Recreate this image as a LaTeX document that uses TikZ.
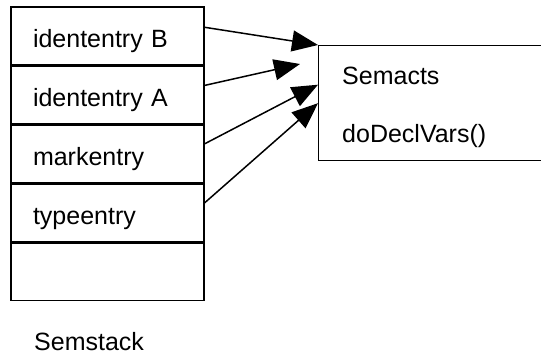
\documentclass[tikz,border=0pt]{standalone}
\usepackage{fontspec}
\setmainfont{Liberation Sans}
\usetikzlibrary{positioning,arrows.meta}

\tikzset{
  row/.style={draw, line width=1.4pt, minimum width=193pt, minimum height=57.6pt,
    text width=149pt, inner xsep=22pt, align=left, text height=26pt, text depth=3pt,
    font=\fontsize{25}{30}\selectfont},
  lbl/.style={anchor=base west, inner sep=0pt, font=\fontsize{25}{30}\selectfont},
  link/.style={-{Triangle[length=26pt,width=21pt]}, line width=1.5pt}
}

\begin{document}
\begin{tikzpicture}[x=1pt,y=-1pt]
\useasboundingbox (0,0) rectangle (541,355);

% the stack
\node[row] (r1) at (107.5,35.8) {idententry B};
\node[row, below=0pt of r1] (r2) {idententry A};
\node[row, below=0pt of r2] (r3) {markentry};
\node[row, below=0pt of r3] (r4) {typeentry};
\node[row, below=0pt of r4] (r5) {};
\node[lbl] (stack) at (34,351) {Semstack};

% the action box
\node[draw, line width=1.4pt, minimum width=260pt, minimum height=115pt,
  anchor=north west, inner sep=0pt] (sem) at (318,45) {};
\node[lbl] (name) at (342,85) {Semacts};
\node[lbl] (op) at (342,143) {doDeclVars()};

% links
\coordinate (tip) at (300,64);
\draw[link] ([yshift=8.5pt]r1.east) -- (sem.north west);
\draw[link] ([yshift=9.4pt]r2.east) -- (tip);
\draw[link] ([yshift=10pt]r3.east) -- ([yshift=18.5pt]sem.west);
\draw[link] ([yshift=10pt]r4.east) -- (sem.west);

\end{tikzpicture}
\end{document}
